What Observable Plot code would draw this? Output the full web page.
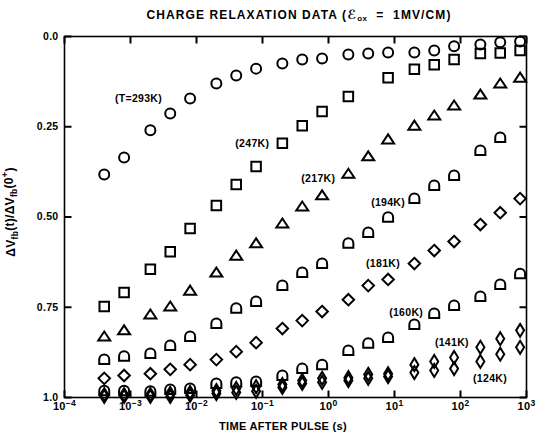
<!DOCTYPE html>
<html><head><meta charset="utf-8">
<script src="https://cdn.jsdelivr.net/npm/d3@7"></script>
<script src="https://cdn.jsdelivr.net/npm/@observablehq/plot@0.6"></script>
<style>
body{margin:0;background:#fff;}
#wrap{width:536px;height:444px;font-family:"Liberation Sans",Arial,sans-serif;color:#000;}
#title{box-sizing:border-box;width:536px;height:24px;padding-left:62px;padding-top:9px;text-align:center;font-weight:bold;font-size:12px;line-height:12px;letter-spacing:1.1px;white-space:nowrap;}
#title sub{font-size:8px;vertical-align:-2px;line-height:0;letter-spacing:0.3px;}
#title .scr{font-family:"DejaVu Sans";font-style:italic;font-weight:bold;font-size:12.5px;}
svg text{letter-spacing:0.3px;}
</style></head>
<body><div id="wrap"><div id="title">CHARGE RELAXATION DATA (<span class="scr">ℰ</span><sub>ox</sub> &nbsp;= &nbsp;1MV/CM)</div><div id="chart"></div></div>
<script>
// time after pulse (s) for each measured column
const times = [4e-4, 8e-4, 2e-3, 4e-3, 8e-3, 0.02, 0.04, 0.08, 0.2, 0.4, 0.8, 2, 4, 8, 20, 40, 80, 200, 400, 800];
// ΔVfb(t)/ΔVfb(0+) for each temperature
const v293 = [0.382,0.335,0.260,0.213,0.172,0.130,0.108,0.089,0.075,0.064,0.061,0.050,0.047,0.044,0.044,0.039,0.027,0.022,0.016,0.014];
const v247 = [0.748,0.709,0.645,0.596,0.532,0.468,0.410,0.360,0.296,0.247,0.208,0.166,null,0.114,0.091,0.078,0.064,0.047,0.046,0.039];
const v217 = [0.831,0.814,0.770,0.748,0.704,0.654,0.607,0.573,0.518,0.471,0.440,0.380,0.332,0.285,0.247,0.219,0.191,0.161,0.130,0.114];
const v194 = [0.895,0.886,0.878,0.856,0.831,0.795,0.753,0.734,0.690,0.654,0.629,0.573,0.543,0.501,0.449,0.413,0.385,0.316,0.280,null];
const v181 = [0.947,0.939,0.934,0.922,0.909,0.895,0.873,0.848,0.809,0.787,0.762,0.729,0.690,0.673,0.629,0.593,0.568,0.521,0.488,0.449];
const v160 = [0.981,0.981,0.983,0.978,0.975,0.961,0.958,0.956,0.939,0.920,0.909,0.870,0.850,0.834,0.798,0.767,0.745,0.720,0.687,0.657];
const v141 = [0.992,0.992,0.992,0.989,0.986,0.981,0.975,0.970,0.964,0.953,0.947,0.945,0.936,0.934,0.909,0.900,0.889,0.861,0.837,0.814];
const v124 = [0.997,0.997,0.997,0.997,0.994,0.989,0.986,0.983,0.972,0.961,0.958,0.953,0.947,0.942,0.931,0.925,0.920,0.900,0.880,0.861];

// curve annotations
const labelTexts = ["(T=293K)", "(247K)", "(217K)", "(194K)", "(181K)", "(160K)", "(141K)", "(124K)"];
const labelTimes = [1.32e-3, 0.07, 0.7, 8, 6.7, 15, 74, 280];
const labelValues = [0.172, 0.296, 0.393, 0.460, 0.629, 0.765, 0.848, 0.947];

// axes
const xTicks = [1e-4, 1e-3, 1e-2, 1e-1, 1e0, 1e1, 1e2, 1e3];
const xTickExponents = ["−4", "−3", "−2", "−1", "0", "1", "2", "3"];
const yTicks = [0, 0.25, 0.5, 0.75, 1];
const yTickLabels = ["0.0", "0.25", "0.50", "0.75", "1.0"];
const xLabel = "TIME AFTER PULSE (s)";
const xDomain = [1e-4, 1e3];
const yDomain = [1, 0];

// marker shapes
const circle = {draw(c, s) { const r = Math.sqrt(s / Math.PI); c.moveTo(r, 0); c.arc(0, 0, r, 0, 2 * Math.PI); }};
const square = {draw(c, s) { const r = Math.sqrt(s / Math.PI) * 0.95; c.moveTo(-r, -r); c.lineTo(r, -r); c.lineTo(r, r); c.lineTo(-r, r); c.closePath(); }};
const triangle = {draw(c, s) { const r = Math.sqrt(s / Math.PI); c.moveTo(0, -r); c.lineTo(1.2 * r, 0.8 * r); c.lineTo(-1.2 * r, 0.8 * r); c.closePath(); }};
const dome = {draw(c, s) { const r = Math.sqrt(s / Math.PI); c.moveTo(-r, 0.9 * r); c.lineTo(-r, 0); c.arc(0, 0, r, Math.PI, 2 * Math.PI); c.lineTo(r, 0.9 * r); c.closePath(); }};
const diamond = {draw(c, s) { const r = Math.sqrt(s / Math.PI) * 1.15; c.moveTo(0, -r); c.lineTo(r, 0); c.lineTo(0, r); c.lineTo(-r, 0); c.closePath(); }};
const lozenge = {draw(c, s) { const r = Math.sqrt(s / Math.PI); c.moveTo(0, -1.3 * r); c.lineTo(0.8 * r, 0); c.lineTo(0, 1.3 * r); c.lineTo(-0.8 * r, 0); c.closePath(); }};

// inward tick shapes (length = symbol radius)
const tickUp = {draw(c, s) { const r = Math.sqrt(s / Math.PI); c.moveTo(0, 0); c.lineTo(0, -r); }};
const tickDown = {draw(c, s) { const r = Math.sqrt(s / Math.PI); c.moveTo(0, 0); c.lineTo(0, r); }};
const tickRight = {draw(c, s) { const r = Math.sqrt(s / Math.PI); c.moveTo(0, 0); c.lineTo(r, 0); }};
const tickLeft = {draw(c, s) { const r = Math.sqrt(s / Math.PI); c.moveTo(0, 0); c.lineTo(-r, 0); }};

const seriesValues = [v293, v247, v217, v194, v181, v160, v141, v124];
const seriesSymbols = [circle, square, triangle, dome, diamond, dome, lozenge, lozenge];

const dotMarks = seriesValues.map((vals, k) =>
  Plot.dot(times.map((t, i) => ({t, v: vals[i]})).filter(d => d.v != null),
    {x: "t", y: "v", symbol: seriesSymbols[k], r: 5, stroke: "black", strokeWidth: 2, fill: "none"}));

const tickOpts = {r: 7, stroke: "black", strokeWidth: 2, fill: "none"};
const tickMarks = [
  Plot.dot(xTicks, {x: d => d, y: () => yDomain[0], symbol: tickUp, ...tickOpts}),
  Plot.dot(xTicks, {x: d => d, y: () => yDomain[1], symbol: tickDown, ...tickOpts}),
  Plot.dot(yTicks, {x: () => xDomain[0], y: d => d, symbol: tickRight, ...tickOpts}),
  Plot.dot(yTicks, {x: () => xDomain[1], y: d => d, symbol: tickLeft, ...tickOpts})
];

const labels = labelTexts.map((text, i) => ({text, t: labelTimes[i], v: labelValues[i]}));
const yLabelMap = new Map(yTicks.map((d, i) => [d, yTickLabels[i]]));
const xExpMap = new Map(xTicks.map((d, i) => [d, xTickExponents[i]]));

const chart = Plot.plot({
  width: 536, height: 420,
  marginLeft: 64, marginRight: 10, marginTop: 12, marginBottom: 47,
  x: {type: "log", domain: xDomain},
  y: {domain: yDomain},
  style: {fontFamily: "Liberation Sans, Arial, sans-serif", fontWeight: "bold", color: "black", background: "white", overflow: "visible"},
  marks: [
    Plot.axisX(xTicks, {anchor: "bottom", tickSize: 0, tickPadding: 5, fontSize: 11, tickFormat: d => "10^" + xExpMap.get(d), label: null}),
    Plot.axisY(yTicks, {anchor: "left", tickSize: 0, tickPadding: 6, fontSize: 10.5, tickFormat: d => yLabelMap.get(d), label: null}),
    Plot.frame({stroke: "black", strokeWidth: 1.6}),
    ...tickMarks,
    ...dotMarks,
    Plot.text(labels, {x: "t", y: "v", text: "text", fontSize: 10.5, fontWeight: "bold", fill: "black"})
  ]
});
document.getElementById("chart").appendChild(chart);

const svg = d3.select(chart);

// superscript exponents for x tick labels
svg.selectAll("text").each(function() {
  const s = this.textContent;
  if (s.startsWith("10^")) {
    const exp = s.slice(3);
    const t = d3.select(this);
    t.text("10");
    t.append("tspan").attr("dy", "-0.5em").attr("font-size", "8.5px").text(exp);
  }
});

// axis titles
svg.append("text")
  .attr("x", 283).attr("y", 406)
  .attr("text-anchor", "middle")
  .attr("font-size", 11).attr("font-weight", "bold")
  .attr("letter-spacing", "0.9px")
  .text(xLabel);

const yl = svg.append("text")
  .attr("transform", "translate(15,188) rotate(-90)")
  .attr("text-anchor", "middle")
  .attr("font-size", 12).attr("font-weight", "bold")
  .attr("letter-spacing", "0.8px");
yl.append("tspan").text("ΔV");
yl.append("tspan").attr("dy", "0.35em").attr("font-size", "8.5px").text("fb");
yl.append("tspan").attr("dy", "-0.35em").text("(t)/ΔV");
yl.append("tspan").attr("dy", "0.35em").attr("font-size", "8.5px").text("fb");
yl.append("tspan").attr("dy", "-0.35em").text("(0");
yl.append("tspan").attr("dy", "-0.5em").attr("font-size", "9px").text("+");
yl.append("tspan").attr("dy", "0.5em").text(")");
</script>
</body></html>
